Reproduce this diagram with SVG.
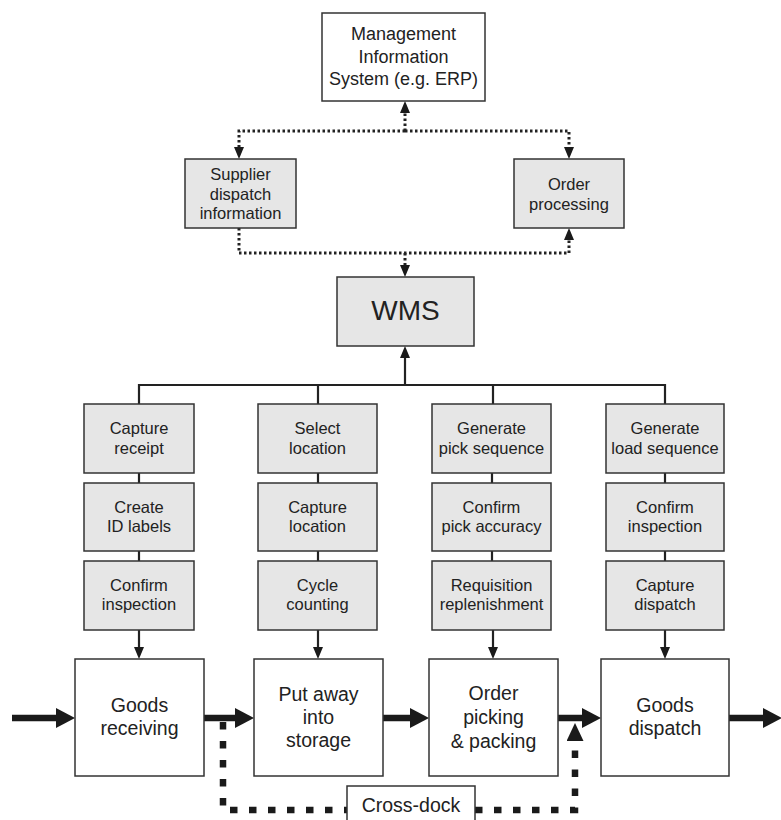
<svg xmlns="http://www.w3.org/2000/svg" width="781" height="820" viewBox="0 0 781 820">
  <style>
    .box { fill: #ffffff; stroke: #333333; stroke-width: 1.5; }
    .grey { fill: #e6e6e6; stroke: #333333; stroke-width: 1.5; }
    text { font-family: "Liberation Sans", Arial, sans-serif; fill: #222222; text-anchor: middle; }
    .t16 { font-size: 16.5px; }
    .t18 { font-size: 18px; }
    .t19 { font-size: 19.5px; }
    .t28 { font-size: 28px; }
    .solid { fill: none; stroke: #222222; stroke-width: 2.2; }
    .dotted { fill: none; stroke: #222222; stroke-width: 3; stroke-dasharray: 2.5 2.5; }
    .heavy { fill: none; stroke: #1a1a1a; stroke-width: 6.5; }
    .dashed { fill: none; stroke: #1a1a1a; stroke-width: 6.5; stroke-dasharray: 7.5 11.5; }
  </style>
  <defs>
    <marker id="ah" markerUnits="userSpaceOnUse" markerWidth="12" markerHeight="10" viewBox="0 0 12 10" refX="0" refY="5" orient="auto">
      <path d="M0,0 L12,5 L0,10 z" fill="#1a1a1a"/>
    </marker>
    <marker id="ahBig" markerUnits="userSpaceOnUse" markerWidth="19" markerHeight="20" viewBox="0 0 19 20" refX="0" refY="10" orient="auto">
      <path d="M0,0 L19,10 L0,20 z" fill="#1a1a1a"/>
    </marker>
    <marker id="ahDash" markerUnits="userSpaceOnUse" markerWidth="18" markerHeight="17" viewBox="0 0 18 17" refX="0" refY="8.5" orient="auto">
      <path d="M0,0 L18,8.5 L0,17 z" fill="#1a1a1a"/>
    </marker>
  </defs>

  <!-- connectors -->
  <g id="connectors">
    <!-- information links around the WMS -->
    <path class="dotted" d="M405,131 V113" marker-end="url(#ah)"/>
    <path class="dotted" d="M405,131 H239 V147" marker-end="url(#ah)"/>
    <path class="dotted" d="M405,131 H569 V147" marker-end="url(#ah)"/>
    <path class="dotted" d="M239,228 V253 H569 V240" marker-end="url(#ah)"/>
    <path class="dotted" d="M405,253 V265" marker-end="url(#ah)"/>

    <!-- WMS bus -->
    <path class="solid" d="M405,385 V358" marker-end="url(#ah)"/>
    <path class="solid" d="M139,404 V385 H665 V404 M318,385 V404 M493,385 V404"/>

    <!-- column links -->
    <path class="solid" d="M139,473 V483 M139,551 V561 M318,473 V483 M318,551 V561 M492,473 V483 M492,551 V561 M665,473 V483 M665,551 V561"/>
    <path class="solid" d="M139,630 V647" marker-end="url(#ah)"/>
    <path class="solid" d="M318,630 V647" marker-end="url(#ah)"/>
    <path class="solid" d="M493,630 V647" marker-end="url(#ah)"/>
    <path class="solid" d="M665,630 V647" marker-end="url(#ah)"/>

    <!-- material flow -->
    <path class="heavy" d="M12,718 H56" marker-end="url(#ahBig)"/>
    <path class="heavy" d="M204,718 H235" marker-end="url(#ahBig)"/>
    <path class="heavy" d="M383,718 H410" marker-end="url(#ahBig)"/>
    <path class="heavy" d="M558,718 H582" marker-end="url(#ahBig)"/>
    <path class="heavy" d="M729,718 H763" marker-end="url(#ahBig)"/>

    <!-- cross-dock bypass -->
    <path class="dashed" d="M223,722 V810 H347"/>
    <path class="dashed" d="M475,810 H575 V741" marker-end="url(#ahDash)"/>
  </g>

  <g id="mis">
    <rect class="box" x="322" y="13" width="163" height="88"/>
    <text class="t18" x="403.5" y="40">Management</text>
    <text class="t18" x="403.5" y="63">Information</text>
    <text class="t18" x="403.5" y="85">System (e.g. ERP)</text>
  </g>

  <g id="supplier-dispatch">
    <rect class="grey" x="185" y="159" width="111" height="69"/>
    <text class="t16" x="240.5" y="180">Supplier</text>
    <text class="t16" x="240.5" y="200">dispatch</text>
    <text class="t16" x="240.5" y="219">information</text>
  </g>

  <g id="order-processing">
    <rect class="grey" x="514" y="159" width="110" height="69"/>
    <text class="t16" x="569" y="190">Order</text>
    <text class="t16" x="569" y="210">processing</text>
  </g>

  <g id="wms">
    <rect class="grey" x="337" y="277" width="137" height="69"/>
    <text class="t28" x="405.5" y="320">WMS</text>
  </g>

  <!-- receiving column -->
  <g id="capture-receipt">
    <rect class="grey" x="84" y="404" width="110" height="69"/>
    <text class="t16" x="139" y="434">Capture</text>
    <text class="t16" x="139" y="454">receipt</text>
  </g>
  <g id="create-id-labels">
    <rect class="grey" x="84" y="483" width="110" height="68"/>
    <text class="t16" x="139" y="513">Create</text>
    <text class="t16" x="139" y="532">ID labels</text>
  </g>
  <g id="confirm-inspection-in">
    <rect class="grey" x="84" y="561" width="110" height="69"/>
    <text class="t16" x="139" y="591">Confirm</text>
    <text class="t16" x="139" y="610">inspection</text>
  </g>

  <!-- storage column -->
  <g id="select-location">
    <rect class="grey" x="258" y="404" width="119" height="69"/>
    <text class="t16" x="317.5" y="434">Select</text>
    <text class="t16" x="317.5" y="454">location</text>
  </g>
  <g id="capture-location">
    <rect class="grey" x="258" y="483" width="119" height="68"/>
    <text class="t16" x="317.5" y="513">Capture</text>
    <text class="t16" x="317.5" y="532">location</text>
  </g>
  <g id="cycle-counting">
    <rect class="grey" x="258" y="561" width="119" height="69"/>
    <text class="t16" x="317.5" y="591">Cycle</text>
    <text class="t16" x="317.5" y="610">counting</text>
  </g>

  <!-- picking column -->
  <g id="pick-sequence">
    <rect class="grey" x="432" y="404" width="119" height="69"/>
    <text class="t16" x="491.5" y="434">Generate</text>
    <text class="t16" x="491.5" y="454">pick sequence</text>
  </g>
  <g id="pick-accuracy">
    <rect class="grey" x="432" y="483" width="119" height="68"/>
    <text class="t16" x="491.5" y="513">Confirm</text>
    <text class="t16" x="491.5" y="532">pick accuracy</text>
  </g>
  <g id="replenishment">
    <rect class="grey" x="432" y="561" width="119" height="69"/>
    <text class="t16" x="491.5" y="591">Requisition</text>
    <text class="t16" x="491.5" y="610">replenishment</text>
  </g>

  <!-- dispatch column -->
  <g id="load-sequence">
    <rect class="grey" x="606" y="404" width="118" height="69"/>
    <text class="t16" x="665" y="434">Generate</text>
    <text class="t16" x="665" y="454">load sequence</text>
  </g>
  <g id="confirm-inspection-out">
    <rect class="grey" x="606" y="483" width="118" height="68"/>
    <text class="t16" x="665" y="513">Confirm</text>
    <text class="t16" x="665" y="532">inspection</text>
  </g>
  <g id="capture-dispatch">
    <rect class="grey" x="606" y="561" width="118" height="69"/>
    <text class="t16" x="665" y="591">Capture</text>
    <text class="t16" x="665" y="610">dispatch</text>
  </g>

  <!-- process stages -->
  <g id="goods-receiving">
    <rect class="box" x="75" y="659" width="129" height="117"/>
    <text class="t19" x="139.5" y="712">Goods</text>
    <text class="t19" x="139.5" y="735">receiving</text>
  </g>
  <g id="put-away">
    <rect class="box" x="254" y="659" width="129" height="117"/>
    <text class="t19" x="318.5" y="701">Put away</text>
    <text class="t19" x="318.5" y="724">into</text>
    <text class="t19" x="318.5" y="747">storage</text>
  </g>
  <g id="order-picking">
    <rect class="box" x="429" y="659" width="129" height="117"/>
    <text class="t19" x="493.5" y="700">Order</text>
    <text class="t19" x="493.5" y="724">picking</text>
    <text class="t19" x="493.5" y="748">&amp; packing</text>
  </g>
  <g id="goods-dispatch">
    <rect class="box" x="601" y="659" width="128" height="117"/>
    <text class="t19" x="665" y="712">Goods</text>
    <text class="t19" x="665" y="735">dispatch</text>
  </g>

  <g id="cross-dock">
    <rect class="box" x="347" y="786" width="128" height="44"/>
    <text class="t19" x="411" y="812">Cross-dock</text>
  </g>
</svg>
